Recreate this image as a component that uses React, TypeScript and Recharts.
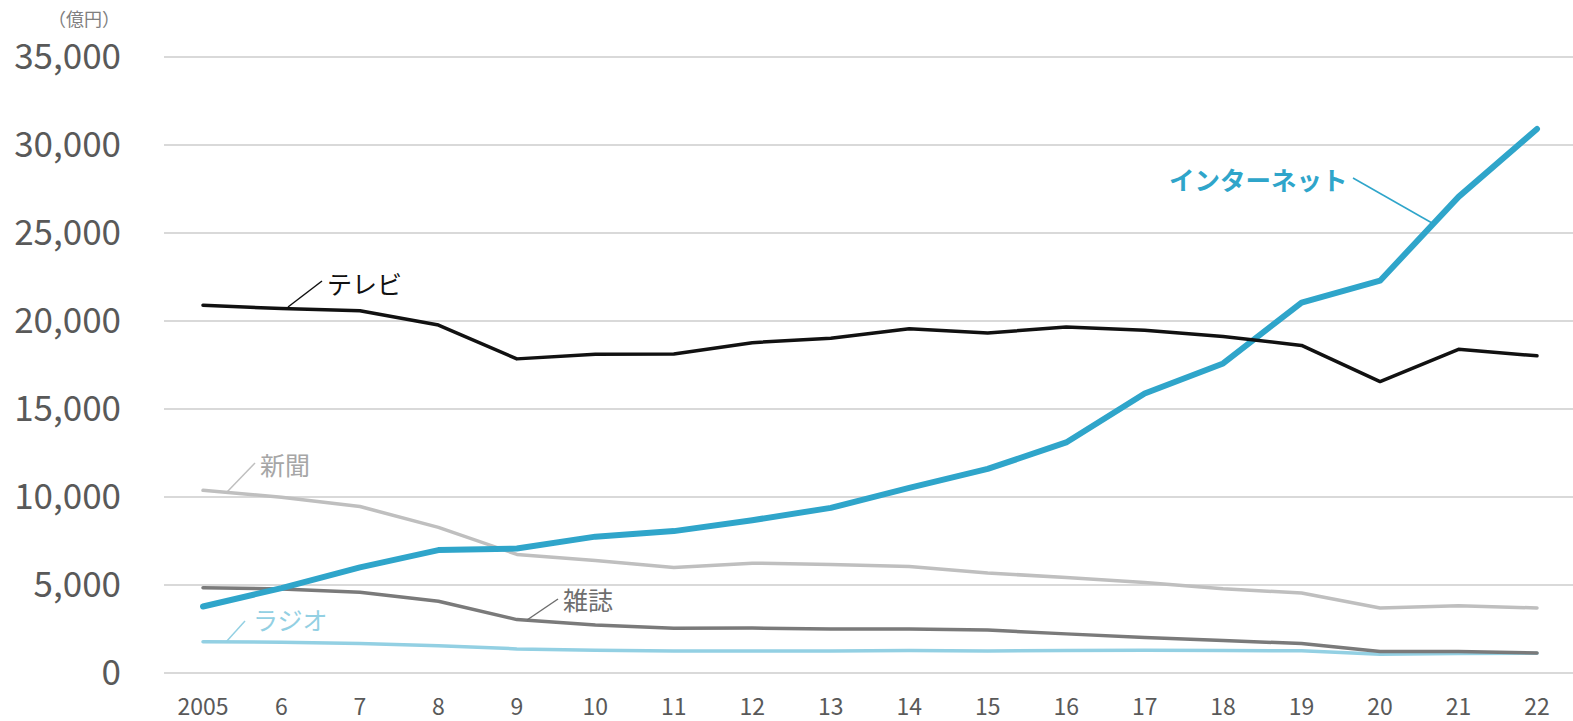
import React from 'react';
import { LineChart, Line, XAxis, YAxis, CartesianGrid } from 'recharts';

const years = ['2005', '6', '7', '8', '9', '10', '11', '12', '13', '14', '15', '16', '17', '18', '19', '20', '21', '22'];
const tv = [20898, 20705, 20584, 19768, 17848, 18105, 18128, 18770, 19023, 19564, 19323, 19657, 19478, 19123, 18612, 16559, 18393, 18019];
const internet = [3777, 4826, 6003, 6983, 7069, 7747, 8062, 8680, 9381, 10519, 11594, 13100, 15880, 17589, 21048, 22290, 27052, 30912];
const newspaper = [10377, 9986, 9462, 8276, 6739, 6396, 5990, 6242, 6170, 6057, 5679, 5431, 5147, 4784, 4547, 3688, 3815, 3697];
const magazine = [4842, 4777, 4585, 4078, 3034, 2733, 2542, 2551, 2499, 2500, 2443, 2223, 2023, 1841, 1675, 1223, 1224, 1140];
const radio = [1778, 1744, 1671, 1549, 1370, 1299, 1247, 1246, 1243, 1272, 1254, 1285, 1290, 1278, 1260, 1066, 1106, 1129];
const yTicks = [0, 5000, 10000, 15000, 20000, 25000, 30000, 35000];

const data = years.map((y, i) => ({
  year: y,
  tv: tv[i],
  internet: internet[i],
  newspaper: newspaper[i],
  magazine: magazine[i],
  radio: radio[i],
}));

const FONT = '"Noto Sans CJK JP", "Noto Sans", sans-serif';

const YTick = (props: any) => {
  const { y, payload } = props;
  return (
    <text x={121} y={y + 12} textAnchor="end" fontSize={35} fill="#595959" fontFamily={FONT}>
      {Number(payload.value).toLocaleString('en-US')}
    </text>
  );
};

const XTick = (props: any) => {
  const { x, payload } = props;
  return (
    <text x={x} y={715} textAnchor="middle" fontSize={23} fill="#595959" fontFamily={FONT}>
      {payload.value}
    </text>
  );
};

export default function App() {
  return (
    <div style={{ position: 'absolute', left: 0, top: 0, width: 1573, height: 721, background: '#fff' }}>
      <LineChart width={1573} height={721} data={data} margin={{ top: 57, right: 0, bottom: 0, left: 0 }}>
        <CartesianGrid horizontal vertical={false} stroke="#d9d9d9" strokeWidth={2} />
        <XAxis
          dataKey="year"
          height={48}
          axisLine={false}
          tickLine={false}
          interval={0}
          padding={{ left: 39, right: 36 }}
          tick={<XTick />}
        />
        <YAxis
          width={164}
          domain={[0, 35000]}
          ticks={yTicks}
          axisLine={false}
          tickLine={false}
          tick={<YTick />}
        />
        <Line type="linear" dataKey="radio" stroke="#93d0e3" strokeWidth={3.5} dot={false} strokeLinecap="round" strokeLinejoin="round" isAnimationActive={false} />
        <Line type="linear" dataKey="magazine" stroke="#7a7a7a" strokeWidth={3.5} dot={false} strokeLinecap="round" strokeLinejoin="round" isAnimationActive={false} />
        <Line type="linear" dataKey="newspaper" stroke="#bfbfbf" strokeWidth={3.5} dot={false} strokeLinecap="round" strokeLinejoin="round" isAnimationActive={false} />
        <Line type="linear" dataKey="internet" stroke="#2fa5ca" strokeWidth={6} dot={false} strokeLinecap="round" strokeLinejoin="round" isAnimationActive={false} />
        <Line type="linear" dataKey="tv" stroke="#111111" strokeWidth={3.5} dot={false} strokeLinecap="round" strokeLinejoin="round" isAnimationActive={false} />
      </LineChart>
      <svg width={1573} height={721} style={{ position: 'absolute', left: 0, top: 0, pointerEvents: 'none' }}>
        <text x={120} y={26} textAnchor="end" fontSize={18} fill="#7f7f7f" fontFamily={FONT}>（億円）</text>
        <line x1={288} y1={307} x2={322} y2={281} stroke="#111" strokeWidth={1.5} />
        <text x={327} y={294} fontSize={25} fill="#111" fontFamily={FONT}>テレビ</text>
        <line x1={1353} y1={178} x2={1432} y2={223} stroke="#2fa5ca" strokeWidth={1.5} />
        <text x={1169} y={190} fontSize={25.5} fontWeight="bold" fill="#2fa5ca" fontFamily={FONT}>インターネット</text>
        <line x1={227} y1={492} x2={255} y2={463} stroke="#bfbfbf" strokeWidth={1.5} />
        <text x={260} y={475} fontSize={25} fill="#a6a6a6" fontFamily={FONT}>新聞</text>
        <line x1={527} y1={620} x2={558} y2={599} stroke="#6e6e6e" strokeWidth={1.5} />
        <text x={563} y={610} fontSize={25} fill="#6e6e6e" fontFamily={FONT}>雑誌</text>
        <line x1={226} y1={642} x2={245} y2={621} stroke="#93d0e3" strokeWidth={1.5} />
        <text x={253} y={630} fontSize={25} fill="#93d0e3" fontFamily={FONT}>ラジオ</text>
      </svg>
    </div>
  );
}
